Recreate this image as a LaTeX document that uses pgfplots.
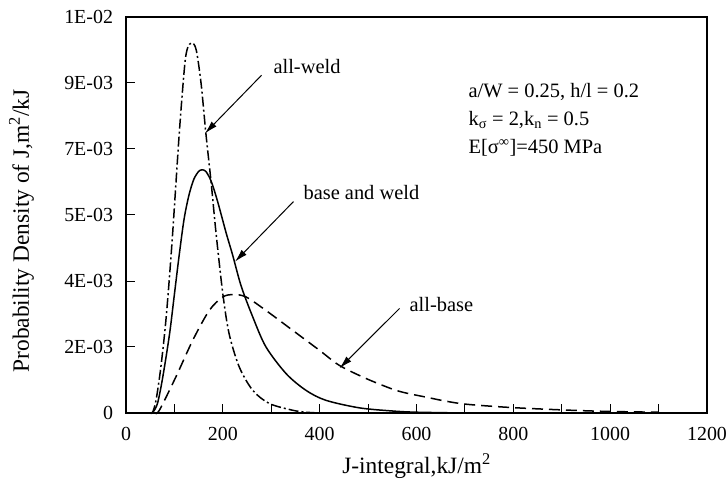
\documentclass[border=0pt]{standalone}
\usepackage{fontspec}
\setmainfont{Liberation Serif}
\usepackage{pgfplots}
\pgfplotsset{compat=1.18}
\usetikzlibrary{arrows.meta}

\begin{document}
\begin{tikzpicture}
\begin{axis}[
  scale only axis, width=581bp, height=396bp,
  xmin=0, xmax=1200, ymin=0, ymax=0.01,
  xtick={0,200,...,1200}, minor x tick num=1,
  ytick={0,0.0016667,0.0033333,0.005,0.0066667,0.0083333,0.01},
  yticklabels={0,2E-03,4E-03,5E-03,7E-03,9E-03,1E-02},
  scaled y ticks=false,
  minor y tick num=1,
  tick align=inside, xtick pos=bottom, ytick pos=left,
  major tick length=9bp, minor tick length=9bp,
  every tick/.style={black, line width=1bp},
  axis line style={line width=1.3bp},
  /pgf/number format/assume math mode=true,
  /pgf/number format/1000 sep={},
  ticklabel style={font=\fontsize{20}{22}\selectfont},
  xticklabel style={yshift=-11bp},
  yticklabel style={xshift=-9.5bp},
  xlabel={J-integral,kJ/m\textsuperscript{2}},
  ylabel={Probability Density of J,m\textsuperscript{2}/kJ},
  label style={font=\fontsize{23.5}{26}\selectfont},
  xlabel style={at={(axis description cs:0.5,-0.135)}, anchor=center},
  ylabel style={at={(axis description cs:-0.18,0.46)}, anchor=center},
  clip=false,
]
% all-weld
\addplot[black, line width=1.5bp, smooth, dash pattern=on 10bp off 3bp on 2bp off 3bp] coordinates {
  (50,0) (55,0.00002) (62,0.00032) (72,0.00116) (83,0.00242) (95,0.0043)
  (110,0.00706) (121,0.00875) (127,0.00921) (136,0.00935) (145,0.00917)
  (155,0.00833) (165,0.00706) (176,0.0058) (186,0.00454) (200,0.00301)
  (213,0.002) (234,0.00116) (262,0.00057) (296,0.00024) (344,0.00007)
  (372,0.00002) (400,0)
};
% base and weld
\addplot[black, line width=1.5bp, smooth] coordinates {
  (50,0) (55,0.00001) (65,0.00024) (76,0.00091) (90,0.002) (100,0.003)
  (110,0.0040) (120,0.0049) (130,0.0055) (140,0.0059) (150,0.0061)
  (157,0.00614) (165,0.0061) (176,0.00585) (189,0.00535) (207,0.00454)
  (220,0.0040) (238,0.0032) (262,0.00242) (289,0.00167) (331,0.00099)
  (372,0.00057) (413,0.00032) (482,0.00013) (551,0.00005) (600,0.00002) (700,0)
};
% all-base
\addplot[black, line width=1.5bp, smooth, dash pattern=on 11bp off 6bp] coordinates {
  (60,0) (69,0.00007) (103,0.00091) (138,0.00184) (172,0.00259) (200,0.00293)
  (222,0.00299) (248,0.00293) (289,0.00259) (344,0.00209) (400,0.00158)
  (441,0.0012) (496,0.00087) (551,0.0006) (580,0.0005) (620,0.0004)
  (660,0.0003) (704,0.00022) (793,0.00014) (897,0.00008) (993,0.00004)
  (1100,0.00002)
};

\begin{scope}[font=\fontsize{20.5}{24}\selectfont]
\node[anchor=west] at (axis cs:297.5,0.00875) {all-weld};
\node[anchor=west] at (axis cs:359.5,0.00556) {base and weld};
\node[anchor=west] at (axis cs:578.5,0.00273) {all-base};
\node[anchor=west] at (axis cs:700.4,0.00811) {a/W = 0.25, h/l = 0.2};
\node[anchor=west] at (axis cs:700.4,0.0074) {k\textsubscript{σ} = 2,k\textsubscript{n} = 0.5};
\node[anchor=west] at (axis cs:700.4,0.00669) {E[σ\textsuperscript{∞}]=450 MPa};
\end{scope}
\begin{scope}[line width=1bp, -{Latex[length=13bp,width=7bp]}]
\draw (axis cs:280,0.00853) -- (axis cs:163,0.00706);
\draw (axis cs:346,0.00534) -- (axis cs:225,0.00382);
\draw (axis cs:565,0.00264) -- (axis cs:441,0.00113);
\end{scope}
\end{axis}
\pgfresetboundingbox
\path[use as bounding box] (-126bp,-76bp) rectangle (602bp,413bp);
\end{tikzpicture}
\end{document}
